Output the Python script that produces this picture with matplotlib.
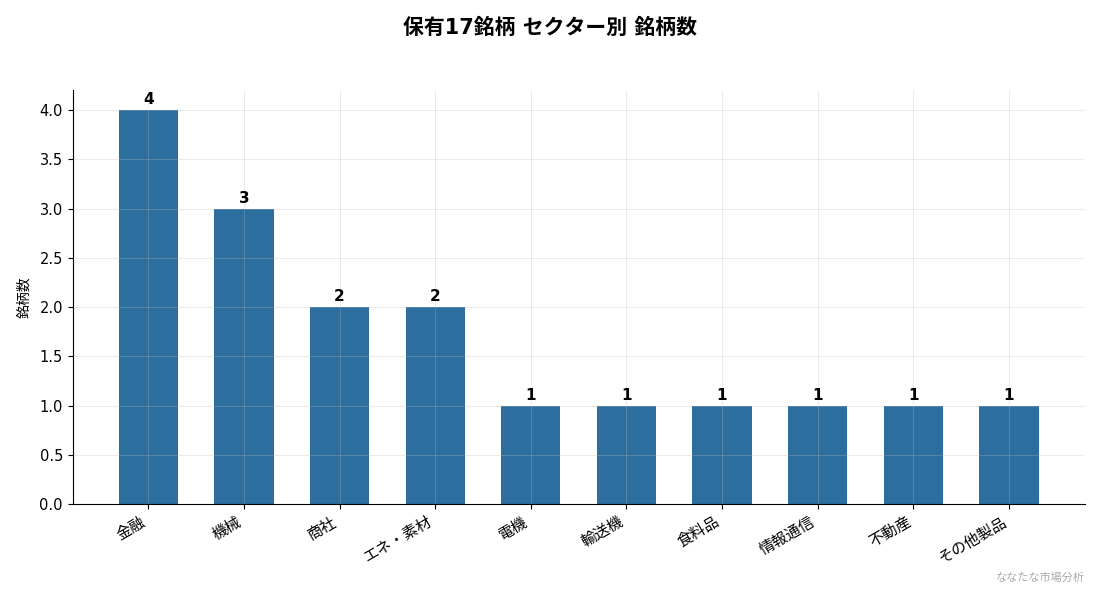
import matplotlib
matplotlib.use("Agg")
import matplotlib.pyplot as plt

plt.rcParams["font.family"] = ["DejaVu Sans", "Noto Sans CJK JP"]

# =========================
# DATA
# =========================
sectors = ["金融", "機械", "商社", "エネ・素材", "電機", "輸送機", "食料品", "情報通信", "不動産", "その他製品"]
counts = [4, 3, 2, 2, 1, 1, 1, 1, 1, 1]


def main():
    fig, ax = plt.subplots(figsize=(11, 5.94), dpi=100)
    fig.subplots_adjust(left=0.066, right=0.986, top=0.848, bottom=0.151)

    bars = ax.bar(range(len(sectors)), counts, width=0.62, color="#2c6e9e", zorder=1)
    for b, v in zip(bars, counts):
        ax.text(b.get_x() + b.get_width() / 2, v + 0.03, str(v),
                ha="center", va="bottom", fontsize=11, fontweight="bold")

    ax.set_xticks(range(len(sectors)))
    ax.set_xticklabels(sectors, rotation=30, ha="right", fontsize=11)
    ax.tick_params(axis="y", labelsize=10.5)
    ax.set_ylim(0, 4.2)
    ax.set_ylabel("銘柄数", fontsize=10, labelpad=6)
    ax.grid(True, color="#bbbbbb", alpha=0.3, linewidth=0.7, zorder=2)
    ax.set_axisbelow(False)
    ax.spines["top"].set_visible(False)
    ax.spines["right"].set_visible(False)

    fig.suptitle("保有17銘柄 セクター別 銘柄数", fontsize=15, fontweight="bold", y=0.97)
    fig.text(0.986, 0.018, "ななたな市場分析", ha="right", va="bottom", fontsize=8, color="#aaaaaa")

    fig.savefig("out.png", dpi=100)


if __name__ == "__main__":
    main()
